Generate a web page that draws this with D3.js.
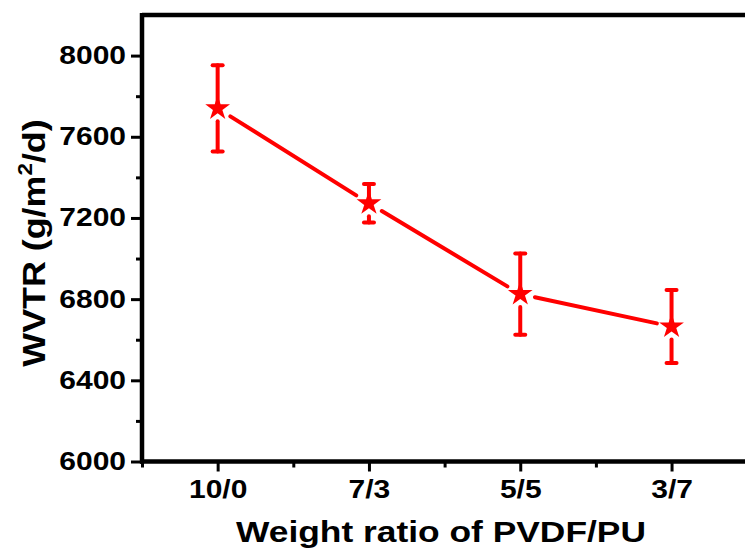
<!DOCTYPE html>
<html>
<head>
<meta charset="utf-8">
<script src="https://cdn.jsdelivr.net/npm/d3@7/dist/d3.min.js"></script>
<style>
  html, body { margin: 0; padding: 0; background: #fff; }
  svg { display: block; }
  text { font-family: "Liberation Sans", Arial, sans-serif; font-weight: bold; fill: #000; }
</style>
</head>
<body>
<svg id="chart" width="745" height="557"></svg>
<script>
// ---- data ----
const categories = ["10/0", "7/3", "5/5", "3/7"];
const wvtr = [7740, 7272, 6825, 6665];
const wvtrErr = [212, 95, 200, 180];
const yTicks = [6000, 6400, 6800, 7200, 7600, 8000];
const yMinorTicks = [6200, 6600, 7000, 7400, 7800];
const xTitle = "Weight ratio of PVDF/PU";

(function() {
// ---- layout ----
const svg = d3.select("#chart");
const left = 142, bottom = 461.5, topY = 15;
const red = "#ff0000";
const stretch = 1.2;

const x = d3.scaleLinear().domain([-0.5, 3.5]).range([left, left + 4 * 151.3]);
const y = d3.scaleLinear().domain([6000, 8200]).range([bottom, topY]);

// axes lines
svg.append("line").attr("x1", left).attr("x2", 745).attr("y1", topY).attr("y2", topY)
  .attr("stroke", "#000").attr("stroke-width", 4.5);
svg.append("line").attr("x1", left).attr("x2", left).attr("y1", topY - 2).attr("y2", bottom + 2)
  .attr("stroke", "#000").attr("stroke-width", 4.5);
svg.append("line").attr("x1", left - 2).attr("x2", 745).attr("y1", bottom).attr("y2", bottom)
  .attr("stroke", "#000").attr("stroke-width", 4.5);

// y axis ticks via d3 axis
const yAxis = d3.axisLeft(y).tickValues(yTicks).tickSize(11).tickPadding(5).tickFormat(d3.format("d"));
const gy = svg.append("g").attr("transform", `translate(${left},0)`).call(yAxis);
gy.select(".domain").remove();
gy.selectAll(".tick line").attr("stroke", "#000").attr("stroke-width", 3);
gy.selectAll(".tick text")
  .attr("font-size", 25).attr("fill", "#000")
  .attr("font-family", "Liberation Sans, Arial, sans-serif").attr("font-weight", "bold")
  .attr("x", 0).attr("transform", `translate(-16,0) scale(${stretch},1)`);
const gyMinor = d3.axisLeft(y).tickValues(yMinorTicks).tickSize(6).tickFormat("");
const gym = svg.append("g").attr("transform", `translate(${left},0)`).call(gyMinor);
gym.select(".domain").remove();
gym.selectAll(".tick line").attr("stroke", "#000").attr("stroke-width", 3);

// x axis ticks
const xIdx = categories.map((d, i) => i);
const xAxis = d3.axisBottom(x).tickValues(xIdx).tickSize(10).tickPadding(9).tickFormat(i => categories[i]);
const gx = svg.append("g").attr("transform", `translate(0,${bottom})`).call(xAxis);
gx.select(".domain").remove();
gx.selectAll(".tick line").attr("stroke", "#000").attr("stroke-width", 3);
gx.selectAll(".tick text").attr("font-size", 25).attr("fill", "#000")
  .attr("font-family", "Liberation Sans, Arial, sans-serif").attr("font-weight", "bold")
  .attr("transform", `scale(${stretch},1)`);
const xMinor = [-0.5, 0.5, 1.5, 2.5, 3.5];
const gxm = svg.append("g").attr("transform", `translate(0,${bottom})`)
  .call(d3.axisBottom(x).tickValues(xMinor).tickSize(6).tickFormat(""));
gxm.select(".domain").remove();
gxm.selectAll(".tick line").attr("stroke", "#000").attr("stroke-width", 3);

// x title
svg.append("text").attr("transform", `translate(441,542) scale(1.22,1)`).attr("text-anchor", "middle")
  .attr("font-size", 29).text(xTitle);

// y title
const yt = svg.append("text").attr("transform", "translate(45,243) rotate(-90) scale(1.12,1)")
  .attr("text-anchor", "middle").attr("font-size", 32);
yt.append("tspan").text("WVTR (g/m");
yt.append("tspan").attr("font-size", 20).attr("dy", -13).text("2");
yt.append("tspan").attr("dy", 13).text("/d)");

// connecting line with gaps near symbols
const gap = 15;
const pts = wvtr.map((v, i) => [x(i), y(v)]);
const lineG = svg.append("g");
for (let i = 0; i < pts.length - 1; i++) {
  const [x1, y1] = pts[i], [x2, y2] = pts[i + 1];
  const L = Math.hypot(x2 - x1, y2 - y1);
  const ux = (x2 - x1) / L, uy = (y2 - y1) / L;
  lineG.append("line")
    .attr("x1", x1 + ux * gap).attr("y1", y1 + uy * gap)
    .attr("x2", x2 - ux * gap).attr("y2", y2 - uy * gap)
    .attr("stroke", red).attr("stroke-width", 4).attr("stroke-linecap", "round");
}

// error bars
const eb = svg.append("g").attr("stroke", red).attr("stroke-width", 4).attr("stroke-linecap", "round");
wvtr.forEach((v, i) => {
  const cx = x(i), cy = y(v), yt1 = y(v + wvtrErr[i]), yb = y(v - wvtrErr[i]);
  eb.append("line").attr("x1", cx).attr("x2", cx).attr("y1", yt1).attr("y2", cy);
  eb.append("line").attr("x1", cx).attr("x2", cx).attr("y1", cy + 13).attr("y2", yb);
  eb.append("line").attr("x1", cx - 5).attr("x2", cx + 5).attr("y1", yt1).attr("y2", yt1);
  eb.append("line").attr("x1", cx - 5).attr("x2", cx + 5).attr("y1", yb).attr("y2", yb);
});

// star markers
const star = d3.symbol().type(d3.symbolStar).size(190);
svg.append("g").selectAll("path").data(wvtr).join("path")
  .attr("transform", (v, i) => `translate(${x(i)},${y(v)})`)
  .attr("d", star).attr("fill", red);
})();
</script>
</body>
</html>
